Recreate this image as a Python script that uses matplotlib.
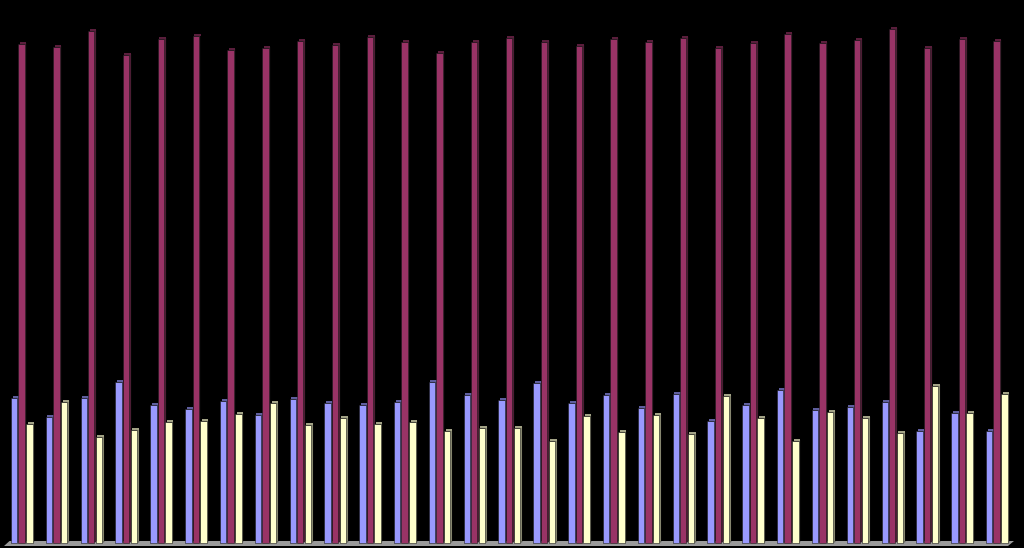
import matplotlib
matplotlib.use("Agg")
import matplotlib.pyplot as plt
import numpy as np

groups = list(range(1, 30))
# bar tops (height units above floor)
blue_top = [398, 417, 398, 382, 405, 409, 401, 415, 399, 403, 405, 402, 382, 395, 400,
            383, 403, 395, 408, 394, 421, 405, 390, 410, 407, 402, 431, 413, 431]
maroon_top = [44, 47, 31, 55, 39, 36, 50, 48, 41, 45, 37, 42, 53, 42, 38,
              42, 46, 39, 42, 38, 48, 43, 34, 43, 40, 29, 48, 39, 41]
yellow_top = [424, 402, 437, 430, 422, 421, 414, 403, 425, 418, 424, 422, 431, 428, 428,
              441, 416, 432, 415, 434, 396, 418, 441, 412, 418, 433, 386, 413, 394]
base = 543
blue = [base - v for v in blue_top]
maroon = [base - v for v in maroon_top]
yellow = [base - v for v in yellow_top]

W, H = 1024, 548
fig = plt.figure(figsize=(W / 100, H / 100), dpi=100, facecolor="black")
ax = fig.add_axes([0, 0, 1, 1])
ax.set_facecolor("black")
spacing = 34.82
px0 = 11.0  # pixel of left edge of first blue bar
x0 = px0 / spacing
ax.set_xlim(-x0, (W - px0) / spacing)
ax.set_ylim(-(H - base), base)
ax.axis("off")

x = np.arange(len(groups))
front_w = 6.4 / spacing
side_w = 1.6 / spacing
series = [
    (blue, 0.0, "#9999FF", "#5E5E9E"),
    (maroon, 7.4 / spacing, "#993366", "#5A1E3C"),
    (yellow, 15.2 / spacing, "#FFFFCC", "#A3A386"),
]

# floor
fx = [9.5 / spacing - x0, 1014 / spacing - x0, 1008 / spacing - x0, 4 / spacing - x0]
fy = [2, 2, -3, -3]
ax.fill(fx, fy, color="#9A9A9A", zorder=1, lw=0)

for vals, off, c, cs in series:
    left = x + off
    v = np.array(vals)
    ax.bar(left, v, width=front_w, align="edge", color=c, edgecolor="#1a1a1a",
           linewidth=0.4, zorder=3)
    ax.bar(left + front_w, v, width=side_w, align="edge", color=cs,
           edgecolor="#1a1a1a", linewidth=0.3, zorder=2, bottom=1.5)
    ax.bar(left + side_w, [2.0] * len(vals), width=front_w, align="edge",
           bottom=v, color=cs, linewidth=0, zorder=2)

fig.savefig("out.png", dpi=100, facecolor="black")
